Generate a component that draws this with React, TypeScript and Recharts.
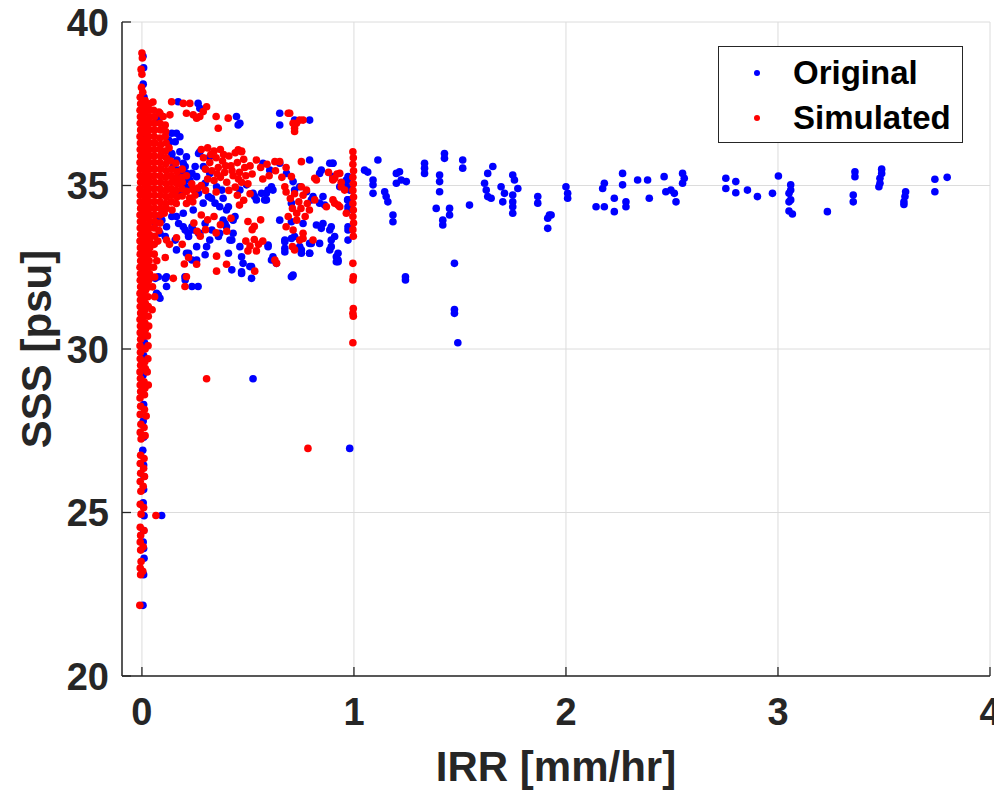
import React from 'react';
import { ScatterChart, Scatter, XAxis, YAxis, CartesianGrid, Label } from 'recharts';

type P = [number, number];

const xDomain: [number, number] = [-0.094, 4];
const yDomain: [number, number] = [20, 40];
const xTicks = [0, 1, 2, 3, 4];
const yTicks = [20, 25, 30, 35, 40];
const xLabel = 'IRR [mm/hr]';
const yLabel = 'SSS [psu]';
const seriesNames = ['Original', 'Simulated'];

// ---- Original (blue) ----
const originalStripe: P[] = [
  [0.005, 38.95], [0.008, 38.6], [0.006, 38.1], [0.01, 37.7], [0.012, 37.3], [0.008, 36.9], [0.01, 36.5],
  [0.012, 36.0], [0.008, 35.6], [0.01, 35.2], [0.012, 34.8], [0.008, 34.4], [0.01, 34.0], [0.012, 33.6],
  [0.008, 33.2], [0.01, 32.8], [0.012, 32.4], [0.008, 32.0], [0.01, 31.6], [0.012, 31.2], [0.008, 30.8],
  [0.01, 30.55], [0.012, 30.2], [0.008, 29.8], [0.005, 29.2], [0.01, 28.8], [0.008, 28.3], [0.006, 27.8],
  [0.008, 27.3], [0.004, 26.9], [0.008, 26.45], [0.01, 26.1], [0.008, 25.7], [0.006, 25.3], [0.01, 24.9],
  [0.008, 24.45], [0.006, 24.1], [0.008, 23.9], [0.01, 23.6], [0.008, 23.1], [0.005, 22.16], [0.093, 24.91],
];

const originalCluster: P[] = [
  [0.171, 37.56], [0.265, 37.51], [0.273, 37.36], [0.085, 37.16], [0.077, 37.0], [0.446, 37.11], [0.454, 36.85],
  [0.65, 37.21], [0.65, 36.85], [0.791, 37.0], [0.72, 37.0], [0.462, 36.9],
  [0.132, 36.34], [0.163, 36.6], [0.179, 36.49], [0.141, 36.6], [0.126, 36.39], [0.157, 36.34],
  [0.14, 35.93], [0.179, 36.03], [0.21, 35.88], [0.195, 35.68], [0.141, 35.98], [0.165, 35.78],
  [0.148, 35.58], [0.171, 35.27], [0.21, 35.37], [0.226, 35.17], [0.258, 35.27], [0.196, 35.37], [0.22, 35.17], [0.204, 34.96],
  [0.273, 36.03], [0.32, 35.88], [0.267, 35.98], [0.29, 35.58], [0.251, 35.58],
  [0.195, 35.07], [0.218, 34.91], [0.179, 34.76], [0.173, 35.47], [0.204, 35.58], [0.236, 35.37], [0.267, 34.76], [0.298, 35.07],
  [0.32, 35.37], [0.352, 34.96], [0.328, 34.61], [0.367, 34.35], [0.289, 34.46],
  [0.383, 34.61], [0.399, 34.25], [0.43, 33.94], [0.383, 33.94], [0.399, 33.74],
  [0.462, 34.86], [0.493, 35.02], [0.524, 34.76], [0.54, 34.56], [0.587, 34.76], [0.618, 34.86], [0.587, 34.56],
  [0.571, 35.68], [0.65, 35.68], [0.603, 35.47],
  [0.682, 35.37], [0.713, 35.12], [0.744, 34.96], [0.776, 34.81], [0.807, 34.66], [0.838, 34.46],
  [0.791, 35.78], [0.838, 35.37], [0.886, 35.68], [0.901, 35.27], [0.933, 34.96], [0.964, 35.17], [0.972, 34.56], [0.972, 34.35],
  [0.65, 33.94], [0.705, 33.89], [0.76, 33.84], [0.823, 33.79], [0.846, 33.69], [0.886, 33.64],
  [0.838, 33.23], [0.886, 33.03], [0.925, 32.72],
  [0.674, 33.33], [0.674, 33.08], [0.705, 33.38], [0.744, 33.13], [0.752, 32.93], [0.791, 33.23], [0.791, 32.93],
  [0.595, 33.18], [0.618, 32.82], [0.634, 32.62], [0.705, 32.21],
  [0.477, 32.62], [0.509, 32.52], [0.517, 32.16], [0.47, 32.36],
  [0.43, 33.54], [0.415, 33.33], [0.462, 33.13], [0.367, 33.54],
  [0.32, 33.33], [0.305, 33.13], [0.273, 33.54], [0.242, 33.64], [0.218, 33.54], [0.195, 33.74],
  [0.116, 33.74], [0.085, 33.54], [0.069, 34.05], [0.163, 34.05], [0.195, 34.15], [0.242, 34.25],
  [0.163, 33.03], [0.21, 32.93], [0.258, 33.13], [0.258, 32.72],
  [0.077, 32.21], [0.116, 32.21], [0.116, 31.91], [0.203, 32.21], [0.265, 31.91], [0.077, 31.65], [0.069, 31.7], [0.085, 31.55],
  [0.925, 32.93], [0.972, 33.64], [0.972, 33.33], [0.71, 32.23],
  [0.901, 35.68], [0.846, 35.47],
  [0.595, 34.86], [0.611, 34.96], [0.564, 34.76], [0.532, 34.66], [0.579, 34.56],
  [0.72, 34.86], [0.705, 34.46], [0.799, 34.56], [0.854, 34.66], [0.862, 34.4], [0.854, 33.84], [0.893, 33.74], [0.909, 33.44], [0.925, 32.67],
  [0.799, 33.23], [0.791, 32.93], [0.752, 33.03], [0.72, 33.44], [0.674, 33.28], [0.674, 32.97],
  [0.595, 33.13], [0.611, 32.72], [0.47, 32.82], [0.517, 32.52], [0.47, 32.31], [0.713, 32.26],
  [0.972, 33.74], [0.972, 34.25], [0.972, 35.27], [0.972, 34.96],
  [0.063, 33.84], [0.094, 33.94], [0.141, 34.05], [0.173, 33.84], [0.204, 33.64], [0.236, 33.74], [0.267, 33.54], [0.11, 33.44], [0.157, 33.33], [0.22, 33.44],
  [0.298, 33.84], [0.33, 33.64], [0.361, 33.44], [0.392, 33.84], [0.424, 33.33],
  [0.22, 32.93], [0.236, 32.72], [0.298, 32.88], [0.408, 32.93], [0.424, 32.42],
  [0.063, 32.16], [0.11, 32.16], [0.204, 32.11], [0.236, 31.91],
  [0.314, 34.66], [0.345, 34.46], [0.377, 34.86], [0.408, 34.35], [0.439, 34.05],
  [0.893, 33.33], [0.893, 33.13], [0.917, 32.82], [0.917, 32.67], [0.9, 35.68], [0.97, 35.17], [0.96, 34.96], [0.97, 34.56], [0.98, 34.86],
  [0.524, 29.09], [0.98, 26.96],
];

const originalTail: P[] = [
  [1.113, 35.78], [1.05, 35.47], [1.065, 35.41], [1.09, 35.17], [1.09, 35.02], [1.09, 34.76],
  [1.145, 34.81], [1.152, 34.66], [1.16, 34.5], [1.184, 34.1], [1.184, 33.89],
  [1.2, 35.37], [1.215, 35.42], [1.223, 35.17], [1.2, 35.07], [1.247, 35.12],
  [1.333, 35.68], [1.333, 35.53], [1.333, 35.37],
  [1.427, 35.98], [1.427, 35.83], [1.404, 35.32], [1.404, 35.12], [1.404, 34.81],
  [1.388, 34.3], [1.451, 34.3], [1.451, 34.1], [1.419, 33.94], [1.419, 33.79],
  [1.513, 35.78], [1.513, 35.53], [1.545, 34.4],
  [1.655, 35.58], [1.631, 35.37], [1.616, 35.07], [1.624, 34.86], [1.631, 34.66], [1.647, 34.61],
  [1.694, 34.96], [1.71, 34.76], [1.702, 34.5], [1.749, 35.32], [1.757, 35.17], [1.773, 34.91], [1.749, 34.71], [1.749, 34.5], [1.749, 34.35], [1.749, 34.15],
  [1.867, 34.66], [1.867, 34.46],
  [1.922, 34.1], [1.914, 34.0], [1.93, 34.1], [1.914, 33.69],
  [2.0, 34.96], [2.008, 34.76], [2.008, 34.61],
  [2.142, 34.35], [2.181, 34.35], [2.228, 34.61], [2.228, 34.2], [2.283, 34.5], [2.283, 34.35], [2.181, 35.07], [2.173, 34.91],
  [2.267, 35.37], [2.267, 35.02], [2.338, 35.17], [2.385, 35.17], [2.393, 34.61], [2.463, 35.27], [2.471, 34.81],
  [2.495, 34.86], [2.511, 34.76], [2.519, 34.5], [2.55, 35.37], [2.558, 35.22], [2.55, 35.07],
  [2.754, 35.22], [2.754, 34.91], [2.801, 35.12], [2.801, 34.78], [2.856, 34.86], [2.903, 34.66], [2.974, 34.76], [3.002, 35.29],
  [3.06, 35.02], [3.06, 34.86], [3.052, 34.76], [3.06, 34.56], [3.052, 34.5], [3.052, 34.22], [3.068, 34.13],
  [3.233, 34.2],
  [3.363, 35.42], [3.363, 35.27], [3.355, 34.71], [3.355, 34.5],
  [3.489, 35.5], [3.489, 35.37], [3.481, 35.22], [3.481, 35.07], [3.476, 34.96],
  [3.602, 34.81], [3.599, 34.66], [3.594, 34.5], [3.594, 34.42],
  [3.74, 35.19], [3.74, 34.81], [3.798, 35.25],
  [1.474, 32.62], [1.243, 32.21], [1.243, 32.11], [1.474, 31.21], [1.474, 31.09], [1.49, 30.19],
];

// ---- Simulated (red) ----
const simulatedStripe: P[] = [
  [0.0, 39.05], [0.002, 38.9], [-0.004, 38.55], [0.0, 38.4], [-0.002, 38.0], [0.004, 37.85], [0.052, 37.55],
  [-0.008, 37.7], [-0.006, 37.5], [-0.009, 37.3], [-0.007, 37.1], [-0.008, 36.9], [-0.006, 36.7], [-0.009, 36.5],
  [-0.007, 36.3], [-0.008, 36.1], [-0.006, 35.9], [-0.009, 35.7], [-0.007, 35.5], [-0.008, 35.3], [-0.006, 35.1],
  [-0.009, 34.9], [-0.007, 34.7], [-0.008, 34.5], [-0.006, 34.3], [-0.009, 34.1], [-0.007, 33.9], [-0.008, 33.7],
  [-0.006, 33.5], [-0.009, 33.3], [-0.007, 33.1], [-0.008, 32.9], [-0.006, 32.7], [-0.009, 32.5], [-0.007, 32.3],
  [-0.008, 32.1], [-0.006, 31.9], [-0.009, 31.7], [-0.007, 31.5], [-0.008, 31.3], [-0.006, 31.1], [-0.009, 30.9],
  [-0.007, 30.7], [-0.008, 30.5], [-0.006, 30.3], [-0.009, 30.1], [-0.007, 29.9], [-0.008, 29.7], [-0.006, 29.5],
  [-0.009, 29.3], [-0.007, 29.1], [-0.008, 28.9], [-0.006, 28.7], [-0.009, 28.5],
  [0.015, 37.6], [0.017, 37.4], [0.014, 37.2], [0.016, 37.0], [0.015, 36.8], [0.017, 36.6], [0.014, 36.4],
  [0.016, 36.2], [0.015, 36.0], [0.017, 35.8], [0.014, 35.6], [0.016, 35.4], [0.015, 35.2], [0.017, 35.0],
  [0.014, 34.8], [0.016, 34.6], [0.015, 34.4], [0.017, 34.2], [0.014, 34.0], [0.016, 33.8], [0.015, 33.6],
  [0.017, 33.4], [0.014, 33.2], [0.016, 33.0], [0.015, 32.8], [0.017, 32.6], [0.014, 32.4], [0.016, 32.2],
  [0.015, 32.0], [0.017, 31.8], [0.012, 31.6], [0.016, 31.4], [0.015, 31.2], [0.01, 31.0], [0.014, 30.8],
  [0.016, 30.6], [0.012, 30.4], [0.015, 30.0], [0.013, 29.6], [0.016, 29.4], [0.01, 29.0], [0.014, 28.8], [0.012, 28.6],
  [0.035, 37.5], [0.038, 37.1], [0.034, 36.7], [0.036, 36.3], [0.038, 35.9], [0.035, 35.5], [0.037, 35.1],
  [0.034, 34.7], [0.036, 34.3], [0.038, 33.9], [0.035, 33.5], [0.037, 33.1], [0.034, 32.7], [0.036, 32.3],
  [0.033, 31.9], [0.03, 31.3], [0.032, 30.7], [0.028, 29.7], [0.03, 28.9],
  [0.033, 37.3], [0.036, 36.9], [0.033, 36.5], [0.035, 36.1], [0.034, 35.7], [0.036, 35.3], [0.033, 34.9],
  [0.035, 34.5], [0.037, 34.1], [0.033, 33.7], [0.036, 33.3], [0.034, 32.9], [0.035, 32.5], [0.032, 32.1],
  [0.028, 31.6], [0.03, 31.0], [0.026, 30.4], [0.029, 30.1], [0.025, 29.3],
  [-0.006, 28.25], [0.012, 28.15], [-0.008, 28.0], [0.02, 27.95], [-0.005, 27.7], [0.01, 27.6], [-0.008, 27.45],
  [0.015, 27.35], [-0.004, 27.25], [-0.006, 26.75], [0.01, 26.65], [-0.008, 26.5], [0.008, 26.35], [-0.006, 26.2],
  [0.012, 26.1], [-0.008, 25.95], [0.006, 25.8], [-0.005, 25.65], [-0.008, 25.25], [0.008, 25.15], [-0.004, 24.95],
  [0.066, 24.91], [-0.008, 24.55], [0.01, 24.45], [-0.006, 24.3], [-0.008, 24.1], [0.006, 23.95], [-0.006, 23.85],
  [-0.004, 23.5], [-0.008, 23.3], [0.004, 23.2], [-0.006, 23.1], [-0.01, 22.16],
];

const simulatedCluster: P[] = [
  [0.055, 37.3], [0.08, 37.25], [0.06, 37.1], [0.085, 37.21], [0.1, 37.11], [0.132, 37.16],
  [0.058, 36.9], [0.085, 36.9], [0.11, 36.85], [0.06, 36.7], [0.088, 36.7], [0.112, 36.65],
  [0.058, 36.5], [0.085, 36.45], [0.11, 36.5], [0.06, 36.3], [0.088, 36.25], [0.114, 36.3],
  [0.058, 36.1], [0.085, 36.1], [0.11, 36.05], [0.128, 36.15], [0.06, 35.9], [0.088, 35.9], [0.115, 35.85],
  [0.058, 35.7], [0.085, 35.7], [0.112, 35.65], [0.135, 35.75], [0.16, 35.68],
  [0.06, 35.5], [0.088, 35.5], [0.115, 35.45], [0.14, 35.5], [0.165, 35.42], [0.19, 35.5],
  [0.058, 35.3], [0.085, 35.3], [0.112, 35.25], [0.138, 35.3], [0.162, 35.22], [0.188, 35.25], [0.21, 35.3],
  [0.06, 35.1], [0.088, 35.1], [0.115, 35.05], [0.14, 35.1], [0.165, 35.05], [0.19, 35.1], [0.235, 35.05],
  [0.058, 34.9], [0.085, 34.9], [0.112, 34.85], [0.138, 34.9], [0.162, 34.85], [0.188, 34.9], [0.21, 34.82], [0.24, 34.88], [0.265, 34.92],
  [0.06, 34.7], [0.088, 34.7], [0.115, 34.65], [0.14, 34.7], [0.165, 34.65], [0.19, 34.68], [0.225, 34.62], [0.25, 34.7],
  [0.058, 34.5], [0.085, 34.5], [0.112, 34.45], [0.138, 34.5], [0.162, 34.45], [0.21, 34.45], [0.24, 34.5],
  [0.06, 34.3], [0.088, 34.3], [0.115, 34.3], [0.142, 34.25], [0.058, 34.1], [0.085, 34.1], [0.105, 34.15],
  [0.06, 33.9], [0.085, 33.85], [0.058, 33.7], [0.08, 33.62], [0.06, 33.45], [0.075, 33.3],
  [0.058, 33.2], [0.116, 33.33], [0.13, 33.2], [0.058, 32.9], [0.07, 32.7], [0.11, 32.8],
  [0.055, 32.5], [0.06, 32.2], [0.05, 31.9], [0.06, 31.6], [0.048, 31.2],
  [0.14, 37.56], [0.195, 37.51], [0.21, 37.21], [0.242, 37.16], [0.258, 37.06], [0.273, 37.11], [0.289, 37.26],
  [0.305, 37.41], [0.226, 37.51], [0.35, 37.11], [0.36, 36.75], [0.407, 37.06], [0.697, 37.21], [0.713, 36.9],
  [0.72, 36.75], [0.744, 37.0], [0.76, 37.0], [0.69, 37.21], [0.729, 36.9], [0.72, 36.65],
  [0.28, 36.1], [0.31, 36.15], [0.34, 36.05], [0.37, 36.1], [0.29, 35.85], [0.32, 35.7], [0.35, 35.85],
  [0.38, 35.75], [0.41, 35.9], [0.44, 36.0], [0.47, 36.05], [0.3, 35.5], [0.33, 35.45], [0.36, 35.55],
  [0.39, 35.4], [0.42, 35.6], [0.45, 35.7], [0.48, 35.8], [0.51, 35.6], [0.31, 35.2], [0.34, 35.15],
  [0.37, 35.25], [0.4, 35.1], [0.43, 35.3], [0.46, 35.4], [0.49, 35.3], [0.52, 35.35], [0.28, 35.0],
  [0.3, 34.85], [0.35, 34.8], [0.41, 34.85], [0.44, 34.95], [0.47, 35.1], [0.5, 35.05],
  [0.325, 35.95], [0.395, 35.6], [0.355, 35.35], [0.425, 35.45], [0.455, 35.2], [0.385, 35.95], [0.485, 35.55],
  [0.54, 35.78], [0.56, 35.55], [0.59, 35.65], [0.627, 35.73], [0.65, 35.73], [0.6, 35.3], [0.63, 35.45],
  [0.66, 35.25], [0.68, 35.55], [0.57, 35.2], [0.705, 35.27], [0.674, 34.96], [0.752, 35.73],
  [0.68, 34.8], [0.7, 34.6], [0.72, 34.75], [0.74, 34.5], [0.76, 34.7], [0.78, 34.45], [0.71, 34.3],
  [0.73, 34.15], [0.75, 34.3], [0.77, 34.05], [0.79, 34.25], [0.69, 34.05], [0.752, 34.96], [0.776, 34.86], [0.815, 34.56],
  [0.45, 34.7], [0.48, 34.55], [0.51, 34.75], [0.46, 34.4], [0.5, 33.9], [0.53, 33.75], [0.56, 33.95], [0.52, 33.65],
  [0.49, 33.3], [0.51, 33.15], [0.53, 33.35], [0.55, 33.2], [0.5, 33.0], [0.54, 33.0], [0.57, 33.3],
  [0.88, 35.4], [0.9, 35.2], [0.92, 35.35], [0.94, 35.1], [0.909, 35.22], [0.94, 34.96], [0.956, 34.86],
  [0.909, 34.46], [0.925, 34.4], [0.815, 35.22], [0.823, 35.17], [0.87, 34.35], [0.901, 34.56], [0.933, 34.35],
  [0.964, 34.15], [0.901, 35.17], [0.933, 35.37],
  [0.28, 34.1], [0.31, 33.95], [0.34, 34.05], [0.37, 33.8], [0.3, 33.65], [0.35, 33.55], [0.4, 33.6], [0.42, 34.0],
  [0.245, 33.85], [0.26, 33.6], [0.275, 33.45],
  [0.68, 33.74], [0.73, 33.94], [0.76, 33.38], [0.71, 33.13], [0.72, 33.03], [0.744, 33.33], [0.713, 33.64],
  [0.76, 33.54], [0.807, 33.33], [0.627, 32.72], [0.635, 32.62], [0.532, 32.38], [0.352, 32.38], [0.399, 32.59],
  [0.352, 32.84], [0.258, 32.59], [0.203, 31.91], [0.148, 32.16], [0.21, 32.21], [0.163, 33.4], [0.19, 33.2],
  [0.22, 32.8], [0.2, 32.6], [0.454, 36.09], [0.47, 36.03],
  [0.305, 29.09], [0.783, 26.96],
];

const simulatedColumn: P[] = [
  [0.995, 36.03], [0.997, 35.85], [0.995, 35.65], [0.998, 35.45], [0.995, 35.25], [0.997, 35.05], [0.995, 34.85],
  [0.998, 34.65], [0.995, 34.45], [0.997, 34.25], [0.995, 34.05], [0.998, 33.85], [0.995, 33.65], [0.997, 33.45],
  [0.995, 32.62], [0.997, 32.21], [0.995, 32.11], [0.997, 31.24], [0.995, 31.09], [0.997, 31.0], [0.995, 30.19],
];

const toRows = (pts: P[]) => pts.map(([x, y]) => ({ x, y }));
const originalData = toRows([...originalStripe, ...originalCluster, ...originalTail]);
const simulatedData = toRows([...simulatedStripe, ...simulatedCluster, ...simulatedColumn]);

const FONT = '"Liberation Sans", Arial, Helvetica, sans-serif';
const INK = '#262626';
const TICK_LEN = 9;
const BLUE = '#0000ff';
const RED = '#ff0000';
const DOT_R = 3.8;
const TICK_FONT = 38;
const LABEL_FONT = 42;

const BottomTick = ({ x, y, payload }: any) => (
  <g>
    <line x1={x} x2={x} y1={y - 22} y2={y - 22 - TICK_LEN} stroke={INK} strokeWidth={1.3} />
    <text x={x} y={y} dy="0.71em" textAnchor="middle" fontFamily={FONT} fontWeight="bold" fontSize={TICK_FONT} fill={INK}>
      {payload.value}
    </text>
  </g>
);

const TopTick = ({ x, y }: any) => (
  <line x1={x} x2={x} y1={y} y2={y + TICK_LEN} stroke={INK} strokeWidth={1.3} />
);

const LeftTick = ({ x, y, payload }: any) => (
  <g>
    <line x1={x + 13} x2={x + 13 + TICK_LEN} y1={y} y2={y} stroke={INK} strokeWidth={1.3} />
    <text x={x} y={y} dy="0.36em" textAnchor="end" fontFamily={FONT} fontWeight="bold" fontSize={TICK_FONT} fill={INK}>
      {payload.value}
    </text>
  </g>
);

const RightTick = ({ x, y }: any) => (
  <line x1={x} x2={x - TICK_LEN} y1={y} y2={y} stroke={INK} strokeWidth={1.3} />
);

const Dot = (color: string) => (props: any) =>
  props.cx == null ? null : <circle cx={props.cx} cy={props.cy} r={DOT_R} fill={color} />;

const axisLine = { stroke: INK, strokeWidth: 1.5 };

export default function App() {
  return (
    <div style={{ position: 'absolute', left: 0, top: 0, width: 994, height: 793, background: '#fff' }}>
      <ScatterChart width={994} height={793} margin={{ top: 22, right: 4, bottom: 0, left: 0 }}>
        <CartesianGrid stroke="#dcdcdc" strokeWidth={1} />
        <XAxis
          dataKey="x"
          type="number"
          domain={xDomain}
          ticks={xTicks}
          interval={0}
          allowDataOverflow
          height={117}
          tickSize={0}
          tickMargin={22}
          axisLine={axisLine}
          tickLine={false}
          tick={<BottomTick />}
        >
          <Label
            content={({ viewBox }: any) => (
              <text
                x={viewBox.x + viewBox.width / 2}
                y={viewBox.y + 105}
                textAnchor="middle"
                fontFamily={FONT}
                fontWeight="bold"
                fontSize={LABEL_FONT}
                fill={INK}
              >
                {xLabel}
              </text>
            )}
          />
        </XAxis>
        <XAxis
          xAxisId="top"
          orientation="top"
          type="number"
          domain={xDomain}
          ticks={xTicks}
          interval={0}
          allowDataOverflow
          height={0}
          tickSize={0}
          tickMargin={0}
          axisLine={axisLine}
          tickLine={false}
          tick={<TopTick />}
        />
        <YAxis
          dataKey="y"
          type="number"
          domain={yDomain}
          ticks={yTicks}
          interval={0}
          allowDataOverflow
          width={122}
          tickSize={0}
          tickMargin={13}
          axisLine={axisLine}
          tickLine={false}
          tick={<LeftTick />}
        >
          <Label
            content={({ viewBox }: any) => {
              const cx = 51;
              const cy = viewBox.y + viewBox.height / 2;
              return (
                <text
                  x={cx}
                  y={cy}
                  transform={`rotate(-90 ${cx} ${cy})`}
                  textAnchor="middle"
                  fontFamily={FONT}
                  fontWeight="bold"
                  fontSize={LABEL_FONT}
                  fill={INK}
                >
                  {yLabel}
                </text>
              );
            }}
          />
        </YAxis>
        <YAxis
          yAxisId="right"
          orientation="right"
          type="number"
          domain={yDomain}
          ticks={yTicks}
          interval={0}
          allowDataOverflow
          width={0}
          tickSize={0}
          tickMargin={0}
          axisLine={axisLine}
          tickLine={false}
          tick={<RightTick />}
        />
        <Scatter name={seriesNames[0]} data={originalData} fill={BLUE} shape={Dot(BLUE)} isAnimationActive={false} />
        <Scatter name={seriesNames[1]} data={simulatedData} fill={RED} shape={Dot(RED)} isAnimationActive={false} />
      </ScatterChart>
      <div
        style={{
          position: 'absolute',
          left: 718,
          top: 46,
          width: 245,
          height: 97,
          boxSizing: 'border-box',
          border: `1.5px solid ${INK}`,
          background: '#fff',
          fontFamily: FONT,
          fontWeight: 'bold',
          fontSize: 33,
          color: '#000',
        }}
      >
        {[BLUE, RED].map((c, i) => (
          <div key={i} style={{ position: 'absolute', left: 0, top: i === 0 ? 4 : 49, height: 44, width: '100%' }}>
            <span
              style={{
                position: 'absolute',
                left: 35,
                top: 19,
                width: 6,
                height: 6,
                borderRadius: 3,
                background: c,
              }}
            />
            <span style={{ position: 'absolute', left: 74, top: 0, lineHeight: '44px' }}>{seriesNames[i]}</span>
          </div>
        ))}
      </div>
    </div>
  );
}
